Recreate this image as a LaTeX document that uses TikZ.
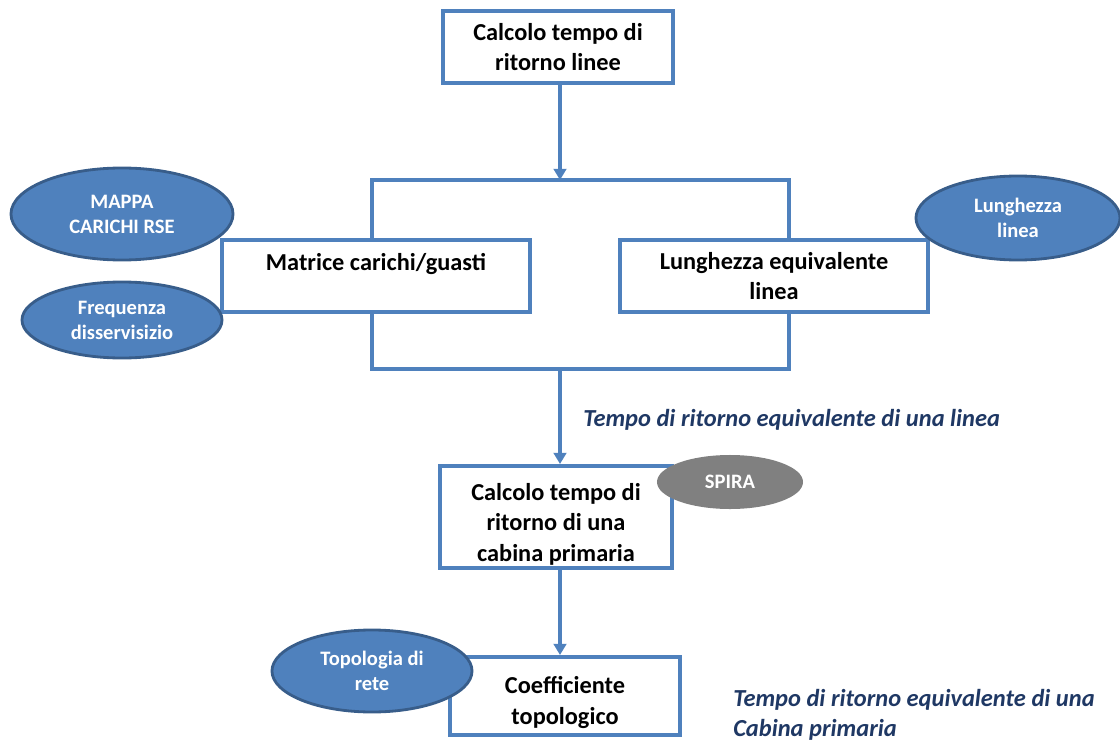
\documentclass[tikz,border=0pt]{standalone}
\usepackage{fontspec}
\setmainfont{Carlito}
\usepackage{xcolor}
\usetikzlibrary{arrows.meta,shapes.geometric}
\definecolor{offblue}{HTML}{4F81BD}
\definecolor{offdark}{HTML}{385D8A}
\definecolor{offnavy}{HTML}{1F3864}
\begin{document}
\begin{tikzpicture}[x=0.025cm,y=-0.025cm,font=\bfseries\fontsize{17.3}{21.5}\selectfont,
 box/.style={draw=offblue,line width=2.8pt,fill=white,align=center,minimum width=#1,inner sep=2pt},
 source/.style={ellipse,draw=offdark,line width=2pt,fill=offblue,text=white,align=center,font=\bfseries\fontsize{14.6}{17.8}\selectfont,inner sep=0pt},
 conn/.style={draw=offblue,line width=2.6pt},
 arr/.style={conn,-{Triangle[length=8pt,width=9pt]}},
 note/.style={text=offnavy,font=\bfseries\itshape\fontsize{17.4}{21.5}\selectfont,align=left,anchor=west,inner sep=0pt}]
\useasboundingbox (0,0) rectangle (1120,742);
\node[box=5.75cm,minimum height=1.8cm] (ritlinee) at (558,47) {Calcolo tempo di\\ritorno linee};
\node[box=7.7cm,minimum height=1.8cm,text height=0.45cm,text depth=0.7cm] (matrice) at (376,276) {Matrice carichi/guasti};
\node[box=7.7cm,minimum height=1.8cm] (lungeq) at (774,276) {Lunghezza equivalente\\linea};
\node[box=5.8cm,minimum height=2.55cm,text height=2.3cm,text depth=0.1cm] (ritcabina) at (556,517) {Calcolo tempo di\\ritorno di una\\cabina primaria};
\node[box=5.75cm,minimum height=1.95cm,text height=1.5cm,text depth=0.1cm] (coeff) at (565,696) {Coefficiente\\topologico};
% bracket round the two middle boxes
\coordinate (tl) at (372,180);
\coordinate (tr) at (789,180);
\coordinate (bl) at (372,369);
\coordinate (br) at (789,369);
\draw[conn] (matrice.north -| tl) -- (tl) -- (tr) -- (lungeq.north -| tr);
\draw[conn] (matrice.south -| bl) -- (bl) -- (br) -- (lungeq.south -| br);
\draw[arr] (ritlinee.south -| 560,0) -- (tl -| 560,0);
\draw[arr] (bl -| 560,0) -- (ritcabina.north -| 560,0);
\draw[arr] (ritcabina.south -| 560,0) -- (coeff.north -| 560,0);
% inputs
\node[source,minimum width=5.55cm,minimum height=2.3cm] (mappa) at (122,214) {MAPPA\\CARICHI RSE};
\node[source,minimum width=5cm,minimum height=1.9cm] (freq) at (122,320) {Frequenza\\disservisizio};
\node[source,minimum width=5.1cm,minimum height=2.1cm] (lunlin) at (1018,218) {Lunghezza\\linea};
\node[source,draw=none,fill=gray,minimum width=3.65cm,minimum height=1.35cm] (spira) at (730,482) {SPIRA};
\node[source,minimum width=5cm,minimum height=2.05cm] (topol) at (372,671) {Topologia di\\rete};
\node[note] (eqlinea) at (583,420) {Tempo di ritorno equivalente di una linea};
\node[note] (eqcabina) at (733,715) {Tempo di ritorno equivalente di una\\Cabina primaria};
\end{tikzpicture}
\end{document}
